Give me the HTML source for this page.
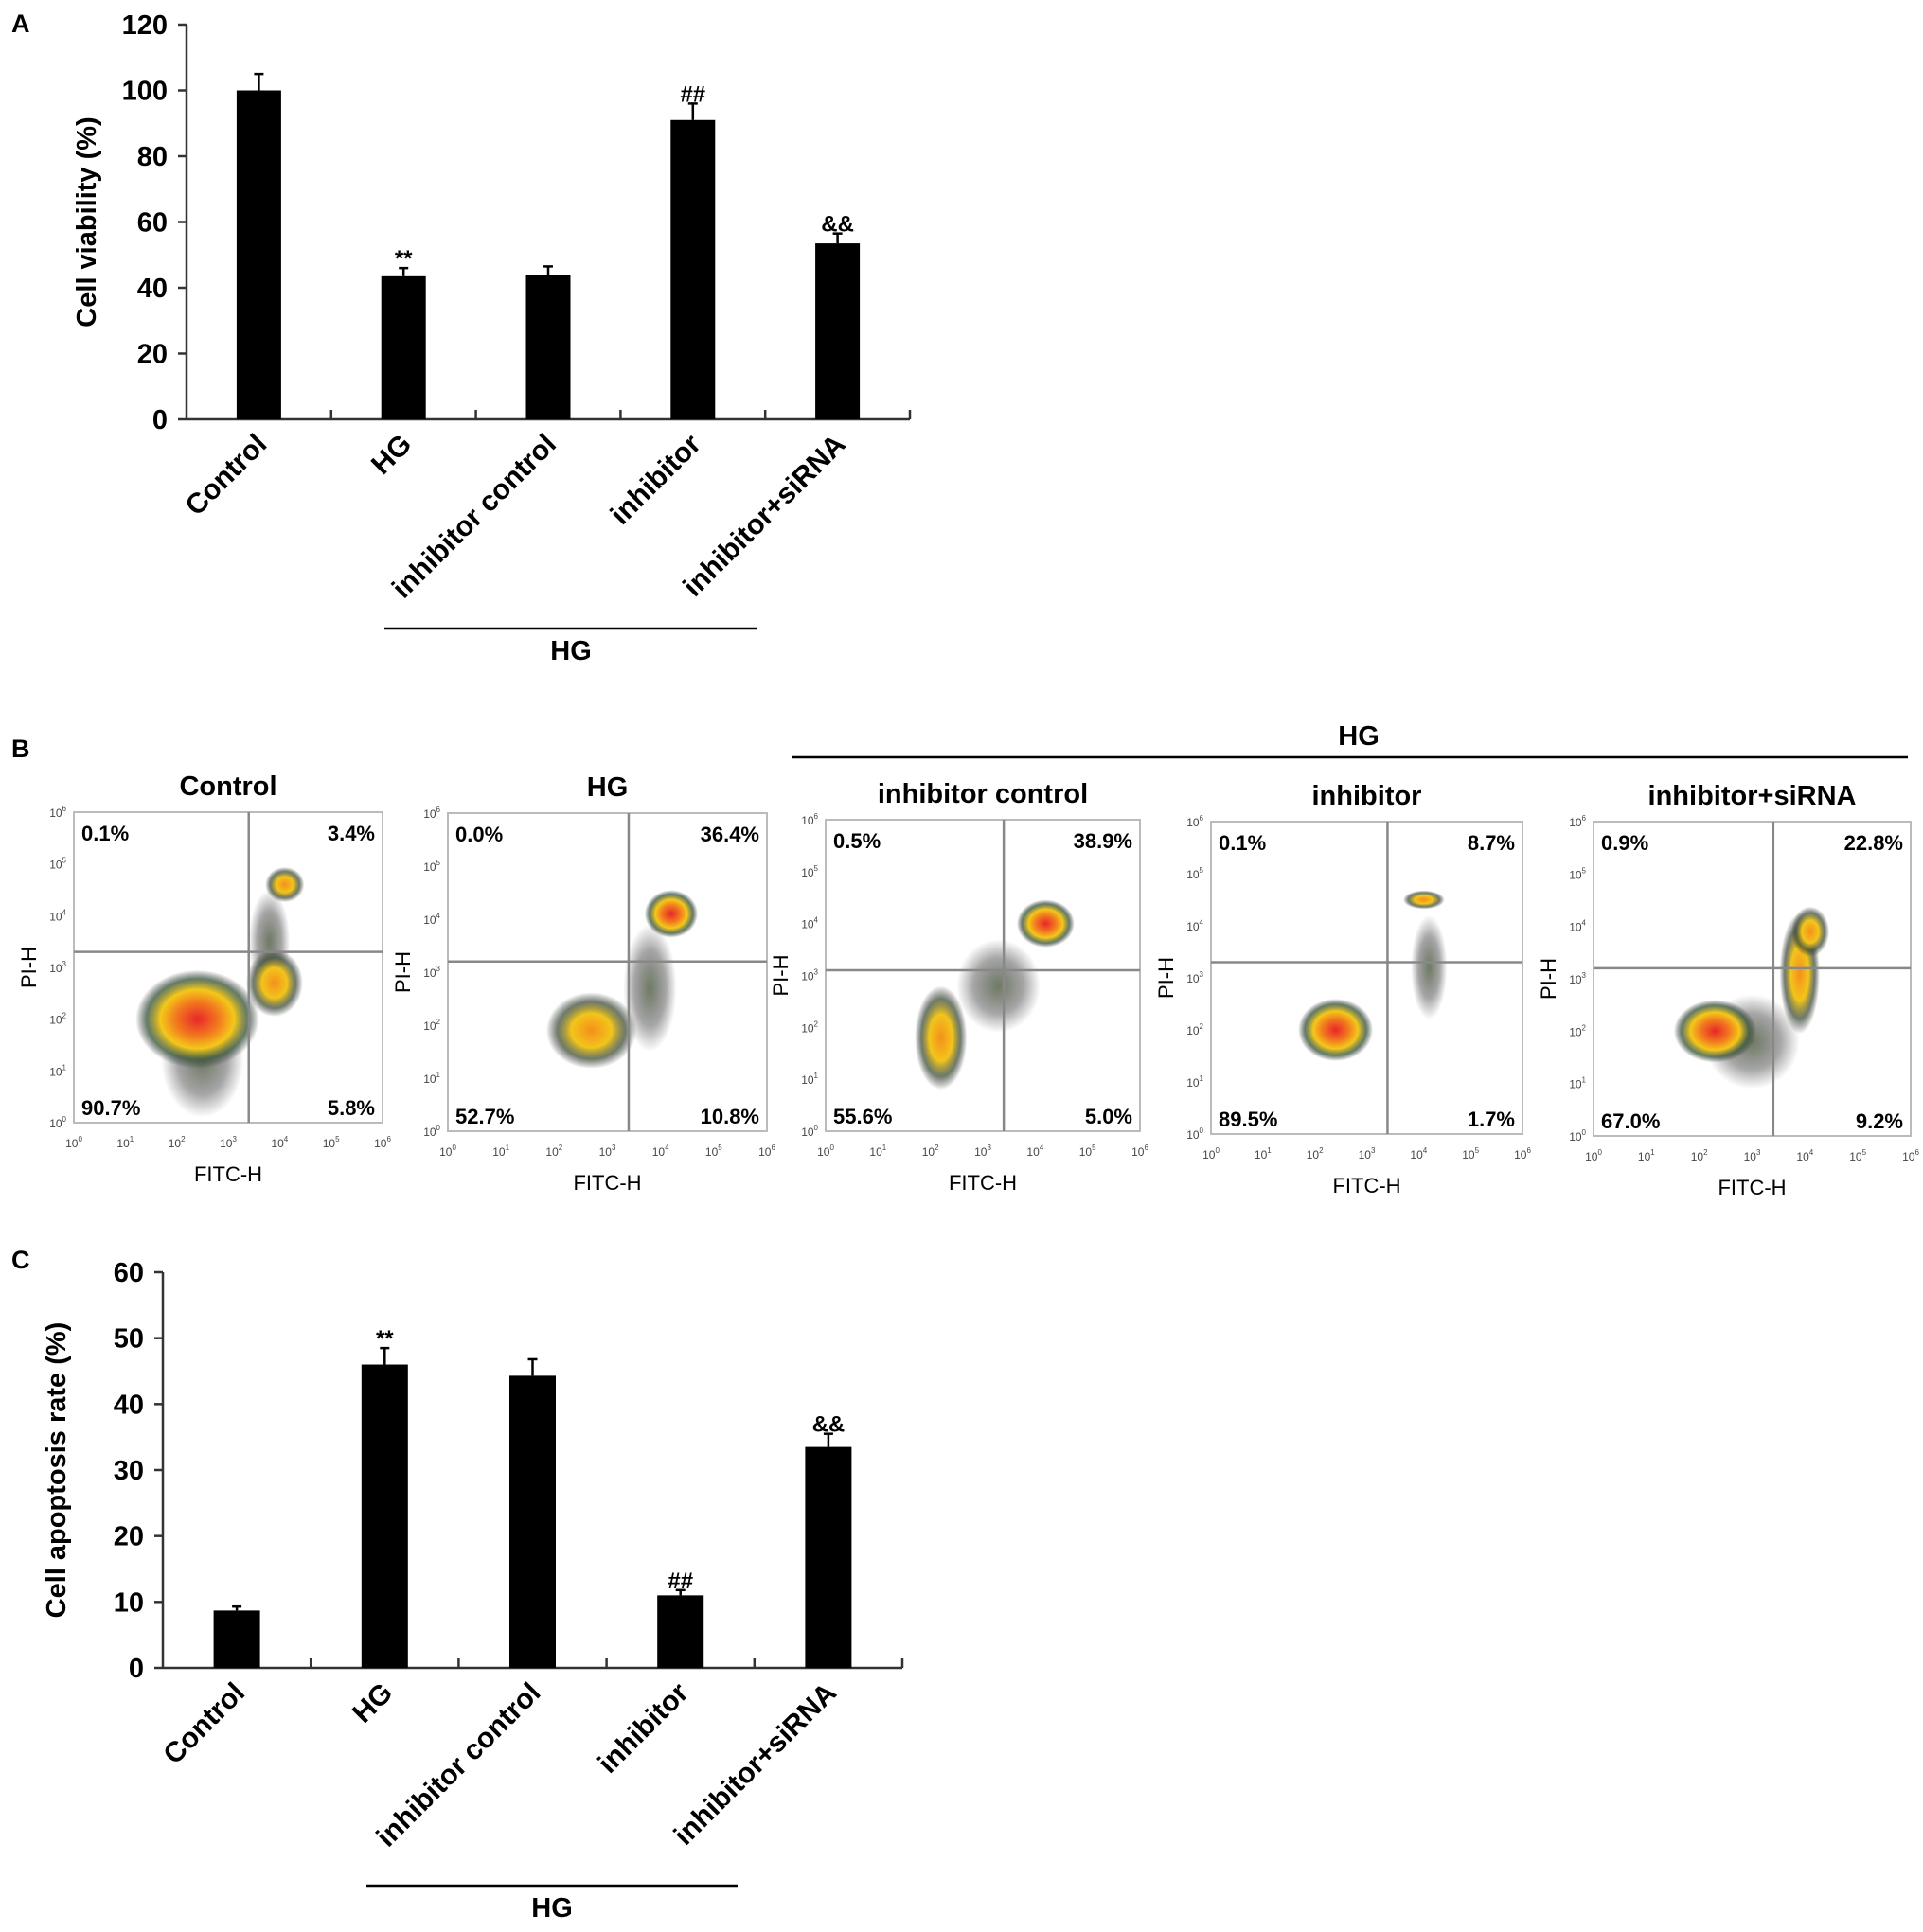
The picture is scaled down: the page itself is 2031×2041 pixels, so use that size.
<!DOCTYPE html>
<html><head><meta charset="utf-8"><style>
body{margin:0;background:#fff}
svg text{font-family:"Liberation Sans",Arial,sans-serif}
</style></head><body>
<svg id="fig" width="2031" height="2036" viewBox="0 0 2031 2036" xmlns="http://www.w3.org/2000/svg">
<defs>
<radialGradient id="hot"><stop offset="0" stop-color="#e8262a"/><stop offset="0.35" stop-color="#f27a1e"/><stop offset="0.6" stop-color="#f4c81a"/><stop offset="0.82" stop-color="#3c5a40" stop-opacity="0.8"/><stop offset="1" stop-color="#2b2b2b" stop-opacity="0"/></radialGradient>
<radialGradient id="warm"><stop offset="0" stop-color="#f5901a"/><stop offset="0.45" stop-color="#f2c51c"/><stop offset="0.75" stop-color="#3e4e3a" stop-opacity="0.75"/><stop offset="1" stop-color="#2b2b2b" stop-opacity="0"/></radialGradient>
<radialGradient id="dark"><stop offset="0" stop-color="#4a5a3c" stop-opacity="0.8"/><stop offset="0.6" stop-color="#3a3a3a" stop-opacity="0.45"/><stop offset="1" stop-color="#444" stop-opacity="0"/></radialGradient>
</defs>
<g id="root"></g>
</svg>
<script>
// ---------- data ----------
const catsA = ["Control","HG","inhibitor control","inhibitor","inhibitor+siRNA"];
const valsA = [100, 43.5, 44, 91, 53.5];
const errA = [5, 2.5, 2.5, 5, 3];
const sigA = ["", "**", "", "##", "&&"];
const ticksA = [0,20,40,60,80,100,120];

const catsC = ["Control","HG","inhibitor control","inhibitor","inhibitor+siRNA"];
const valsC = [8.7, 46, 44.3, 11, 33.5];
const errC = [0.6, 2.5, 2.5, 0.8, 2];
const sigC = ["", "**", "", "##", "&&"];
const ticksC = [0,10,20,30,40,50,60];

const flowTitles = ["Control","HG","inhibitor control","inhibitor","inhibitor+siRNA"];
const flowUL = ["0.1%","0.0%","0.5%","0.1%","0.9%"];
const flowUR = ["3.4%","36.4%","38.9%","8.7%","22.8%"];
const flowLL = ["90.7%","52.7%","55.6%","89.5%","67.0%"];
const flowLR = ["5.8%","10.8%","5.0%","1.7%","9.2%"];
const flowGateX = [3.4, 3.4, 3.4, 3.4, 3.4];
const flowGateY = [3.3, 3.2, 3.1, 3.3, 3.2];
// clusters: [x decade, y decade, rx, ry, style]
const flowClusters = [
 [[2.5,1.2,0.8,1.1,"dark"],[3.8,3.5,0.4,1.0,"dark"],[2.4,2.0,1.2,0.95,"hot"],[3.9,2.7,0.55,0.65,"warm"],[4.1,4.6,0.38,0.34,"warm"]],
 [[3.8,2.7,0.5,1.2,"dark"],[2.7,1.9,0.85,0.72,"warm"],[4.2,4.1,0.5,0.45,"hot"]],
 [[3.3,2.8,0.8,0.9,"dark"],[2.2,1.8,0.5,1.0,"warm"],[4.2,4.0,0.55,0.46,"hot"]],
 [[4.2,3.2,0.35,1.0,"dark"],[2.4,2.0,0.72,0.6,"hot"],[4.1,4.5,0.4,0.18,"warm"]],
 [[3.0,1.8,0.9,0.9,"dark"],[3.9,3.1,0.38,1.15,"warm"],[2.3,2.0,0.78,0.6,"hot"],[4.1,3.9,0.36,0.48,"warm"]]
];

// ---------- helpers ----------
const NS="http://www.w3.org/2000/svg";
const root=document.getElementById('root');
function mk(tag,attrs,parent,txt){const e=document.createElementNS(NS,tag);for(const k in attrs)e.setAttribute(k,attrs[k]);if(txt!==undefined)e.textContent=txt;(parent||root).appendChild(e);return e;}

function barChart(cfg){
 const g=mk('g',{});
 
 
 const yMax=cfg.ticks[cfg.ticks.length-1];
 const ys=v=>cfg.y0-(v/yMax)*(cfg.y0-cfg.yTop);
 const step=(cfg.xEnd-cfg.x0)/cfg.cats.length;
 const xs=i=>cfg.x0+step*(i+0.5);
 const ya=mk('line',{x1:cfg.x0,y1:cfg.yTop,x2:cfg.x0,y2:cfg.y0,stroke:'#333','stroke-width':2.5},g);
 
 const xa=mk('line',{x1:cfg.x0,y1:cfg.y0,x2:cfg.xEnd,y2:cfg.y0,stroke:'#333','stroke-width':2.5},g);
 
 cfg.ticks.forEach(t=>{
  mk('line',{x1:cfg.x0-9,y1:ys(t),x2:cfg.x0,y2:ys(t),stroke:'#333','stroke-width':2.5},g);
  const tl=mk('text',{x:cfg.x0-20,y:ys(t)+10,'text-anchor':'end','font-size':29,'font-weight':'bold'},g,String(t));
  
 });
 for(let i=1;i<=cfg.cats.length;i++){mk('line',{x1:cfg.x0+step*i,y1:cfg.y0-10,x2:cfg.x0+step*i,y2:cfg.y0,stroke:'#333','stroke-width':2.5},g);}
 cfg.cats.forEach((c,i)=>{
  const x=xs(i),top=ys(cfg.vals[i]),eTop=ys(cfg.vals[i]+cfg.err[i]);
  const b=mk('rect',{x:x-cfg.bw/2,y:top,width:cfg.bw,height:cfg.y0-top,fill:'#000'},g);
  
  
  mk('line',{x1:x,y1:top,x2:x,y2:eTop,stroke:'#000','stroke-width':2.5},g);
  mk('line',{x1:x-5,y1:eTop,x2:x+5,y2:eTop,stroke:'#000','stroke-width':2.5},g);
  if(cfg.sig[i]){const s=mk('text',{x:x,y:eTop-2,'text-anchor':'middle','font-size':24,'font-family':'Liberation Serif','font-weight':'bold'},g,cfg.sig[i]);
   }
  const lx=x+10,ly=cfg.y0+28;
  const l=mk('text',{x:lx,y:ly,'text-anchor':'end','font-size':30,'font-weight':'bold',transform:`rotate(-45 ${lx} ${ly})`},g,c);
  
 });
 const t=mk('text',{x:0,y:0,'text-anchor':'middle','font-size':29,'font-weight':'bold',transform:`translate(${cfg.titleX},${(cfg.y0+cfg.yTop)/2}) rotate(-90)`},g,cfg.title);
 
 const hl=mk('line',{x1:cfg.hgX1,y1:cfg.hgY,x2:cfg.hgX2,y2:cfg.hgY,stroke:'#000','stroke-width':2.5},g);
 
 const ht=mk('text',{x:(cfg.hgX1+cfg.hgX2)/2,y:cfg.hgY+33,'text-anchor':'middle','font-size':29,'font-weight':'bold'},g,'HG');
 
}

function panelLabel(t,x,y){const e=mk('text',{x:x,y:y,'font-size':27,'font-weight':'bold'},root,t);
 }

panelLabel('A',12,34);
barChart({name:'panel-a-cell-viability',cats:catsA,vals:valsA,err:errA,sig:sigA,ticks:ticksA,x0:197,xEnd:961,y0:443,yTop:26,bw:47,title:'Cell viability (%)',titleX:101,hgX1:406,hgX2:800,hgY:664});

panelLabel('C',12,1340);
barChart({name:'panel-c-apoptosis-rate',cats:catsC,vals:valsC,err:errC,sig:sigC,ticks:ticksC,x0:172,xEnd:953,y0:1762,yTop:1344,bw:49,title:'Cell apoptosis rate (%)',titleX:69,hgX1:387,hgX2:779,hgY:1992});

// ---------- panel B ----------
panelLabel('B',12,800);
const hgl=mk('line',{x1:837,y1:800,x2:2015,y2:800,stroke:'#000','stroke-width':2.5});

const hgt=mk('text',{x:1435,y:787,'text-anchor':'middle','font-size':29,'font-weight':'bold'},root,'HG');


const boxes=[[78,858,404,1186],[473,859,810,1195],[872,866,1204,1195],[1279,868,1608,1198],[1683,868,2018,1200]];
flowTitles.forEach((title,p)=>{
 const [x1,y1,x2,y2]=boxes[p];
 const g=mk('g',{});
 
 
 const fx=d=>x1+d/6*(x2-x1), fy=d=>y2-d/6*(y2-y1);
 const cp=mk('clipPath',{id:'cp'+p},g);mk('rect',{x:x1,y:y1,width:x2-x1,height:y2-y1},cp);
 const cg=mk('g',{'clip-path':`url(#cp${p})`},g);
 flowClusters[p].forEach(c=>{
  const e=mk('ellipse',{cx:fx(c[0]),cy:fy(c[1]),rx:c[2]/6*(x2-x1),ry:c[3]/6*(y2-y1),fill:`url(#${c[4]})`},cg);
  
 });
 mk('rect',{x:x1,y:y1,width:x2-x1,height:y2-y1,fill:'none',stroke:'#bbb','stroke-width':2},g);
 mk('line',{x1:fx(flowGateX[p]),y1:y1,x2:fx(flowGateX[p]),y2:y2,stroke:'#888','stroke-width':2.5},g);
 mk('line',{x1:x1,y1:fy(flowGateY[p]),x2:x2,y2:fy(flowGateY[p]),stroke:'#888','stroke-width':2.5},g);
 for(let d=0;d<=6;d++){
  const tx=mk('text',{x:fx(d),y:y2+26,'text-anchor':'middle','font-size':12,fill:'#444'},g,'10');
  mk('tspan',{dy:-6,'font-size':8},tx,String(d));
  const ty=mk('text',{x:x1-8,y:fy(d)+5,'text-anchor':'end','font-size':12,fill:'#444'},g,'10');
  mk('tspan',{dy:-6,'font-size':8},ty,String(d));
 }
 const tt=mk('text',{x:(x1+x2)/2,y:y1-18,'text-anchor':'middle','font-size':29,'font-weight':'bold'},g,title);
 
 const xl=mk('text',{x:(x1+x2)/2,y:y2+62,'text-anchor':'middle','font-size':22},g,'FITC-H');
 
 const yl=mk('text',{x:0,y:0,'text-anchor':'middle','font-size':22,transform:`translate(${x1-40},${(y1+y2)/2}) rotate(-90)`},g,'PI-H');
 
 [[flowUL[p],x1+8,y1+30,'start'],[flowUR[p],x2-8,y1+30,'end'],[flowLL[p],x1+8,y2-8,'start'],[flowLR[p],x2-8,y2-8,'end']].forEach(q=>{
  const e=mk('text',{x:q[1],y:q[2],'text-anchor':q[3],'font-size':22,'font-weight':'bold'},g,q[0]);
  
 });
});
</script>
</body></html>
